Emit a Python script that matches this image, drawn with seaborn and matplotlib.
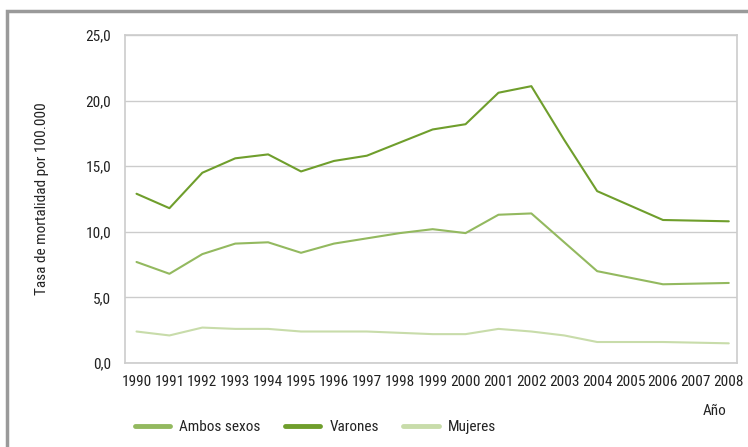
import matplotlib
matplotlib.use("Agg")
import matplotlib.pyplot as plt
import matplotlib.patches as mpatches
from matplotlib import font_manager as fm
from matplotlib.ticker import FixedLocator, FuncFormatter
import seaborn as sns
import pandas as pd

years = [str(y) for y in range(1990, 2009)]
ambos = [7.7, 6.8, 8.3, 9.1, 9.2, 8.4, 9.1, 9.5, 9.9, 10.2, 9.9, 11.3, 11.4, 9.2, 7.0, 6.5, 6.0, 6.05, 6.1]
varones = [12.9, 11.8, 14.5, 15.6, 15.9, 14.6, 15.4, 15.8, 16.8, 17.8, 18.2, 20.6, 21.1, 17.0, 13.1, 12.0, 10.9, 10.85, 10.8]
mujeres = [2.4, 2.1, 2.7, 2.6, 2.6, 2.4, 2.4, 2.4, 2.3, 2.2, 2.2, 2.6, 2.4, 2.1, 1.6, 1.6, 1.6, 1.55, 1.5]
series_names = ["Ambos sexos", "Varones", "Mujeres"]
colors = ["#93b95f", "#6f9e2c", "#c8dcaa"]
y_ticks = [0, 5, 10, 15, 20, 25]

sns.set_style("white")

# look for a condensed sans font
cand = None
for f in fm.fontManager.ttflist:
    n = (f.name + " " + f.fname).lower()
    if ("narrow" in n or "condensed" in n) and "bold" not in n and "italic" not in n and "oblique" not in n \
            and "light" not in n and "thin" not in n:
        if "sans" in n or "roboto" in n or "liberation" in n:
            cand = f
            if "liberation" in n:
                break
if cand is not None:
    FP = dict(fname=cand.fname)
    fsize = 11
else:
    FP = dict(family="DejaVu Sans")
    fsize = 8.5

def fprop(size=None):
    return fm.FontProperties(size=size or fsize, **FP)

rows = []
for name, vals in zip(series_names, [ambos, varones, mujeres]):
    for i, (yr, v) in enumerate(zip(years, vals)):
        rows.append({"idx": i, "year": yr, "serie": name, "valor": v})
df = pd.DataFrame(rows)

fig = plt.figure(figsize=(7.48, 4.47), dpi=100)
ax = fig.add_axes([125/748, 1-363/447, (737-125)/748, (363-35)/447])

sns.lineplot(data=df, x="idx", y="valor", hue="serie", hue_order=series_names,
             palette=colors, linewidth=1.5, ax=ax, legend=True)

ax.set_xlim(-0.35, 18.25)
ax.set_ylim(0, 25)
ax.set_yticks(y_ticks)
ax.yaxis.set_major_formatter(FuncFormatter(lambda v, p: f"{v:.1f}".replace(".", ",")))
ax.set_xticks(range(len(years)))
ax.set_xticklabels(years)
ax.xaxis.set_minor_locator(FixedLocator([i + 0.5 for i in range(len(years) - 1)]))
ax.tick_params(axis='x', which='major', length=0, pad=9, colors='#222222')
ax.tick_params(axis='x', which='minor', length=10, direction='inout', width=1, color='#8a8080')
ax.tick_params(axis='y', which='major', length=0, pad=10, colors='#222222')
for t in ax.get_xticklabels() + ax.get_yticklabels():
    t.set_fontproperties(fprop())
ax.grid(axis='y', color='#cccccc', linewidth=1)
ax.set_axisbelow(True)
for s in ax.spines.values():
    s.set_color('#cccccc')
    s.set_linewidth(1.2)
ax.set_xlabel("")
ax.set_ylabel("Tasa de mortalidad por 100.000", fontproperties=fprop(), color='#222222', labelpad=26)

fig.text(715/748, 1-411/447, "Año", fontproperties=fprop(), color='#222222', ha='center', va='center')

h, l = ax.get_legend_handles_labels()
leg = ax.legend(h, l, loc='center left', bbox_to_anchor=(135/748, 1-427/447), bbox_transform=fig.transFigure,
                ncol=3, frameon=False, prop=fprop(), handlelength=2.3, columnspacing=1.6,
                handletextpad=0.6, borderaxespad=0, borderpad=0)
for line in leg.get_lines():
    line.set_linewidth(3.5)
for t in leg.get_texts():
    t.set_color('#222222')

rect = mpatches.Rectangle((7/748, -0.1), 1.2, 1 - 11/447 + 0.1, transform=fig.transFigure,
                          fill=False, edgecolor='#9a9a9a', linewidth=2.5, clip_on=False)
fig.patches.append(rect)

fig.savefig("out.png", dpi=100)
